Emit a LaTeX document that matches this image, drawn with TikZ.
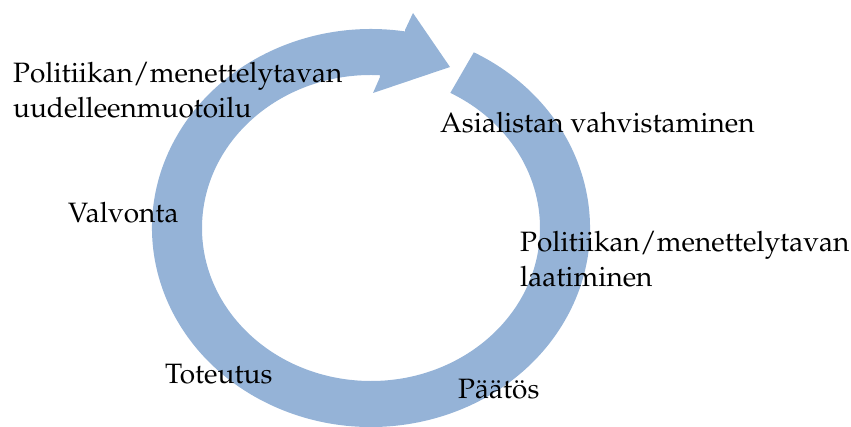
\documentclass[tikz,border=0pt]{standalone}
\usepackage[T1]{fontenc}
\usepackage{mathpazo}
\usetikzlibrary{calc}
\definecolor{ringblue}{RGB}{149,179,215}
\tikzset{
  lbl/.style={anchor=base west, inner sep=0pt, align=left, font=\fontsize{28}{35}\selectfont, text=black},
}
\begin{document}
\begin{tikzpicture}[x=1pt,y=-1pt]
\useasboundingbox (0,0) rectangle (851,427);
% ring arrow
\coordinate (C) at (371,228);
\coordinate (shTop) at (405,30);
\coordinate (headTop) at (413,13);
\coordinate (tip) at (450,67);
\coordinate (headBot) at (373,93);
\coordinate (shBot) at (380,77);
\fill[ringblue]
  ($(C)+(-62:219 and 199)$)
  arc[start angle=-62, end angle=279, x radius=219, y radius=199]
  -- (shTop) -- (headTop) -- (tip) -- (headBot) -- (shBot)
  -- ($(C)+(273:169 and 153)$)
  arc[start angle=273, end angle=-62, x radius=169, y radius=153]
  -- cycle;
% labels (multi-line nodes: base = last line)
\node[lbl] (t1) at (13,118) {Politiikan/menettelytavan\\uudelleenmuotoilu};
\node[lbl] (t2) at (440,133) {Asialistan vahvistaminen};
\node[lbl] (t3) at (520,287) {Politiikan/menettelytavan\\laatiminen};
\node[lbl] (t4) at (68,223) {Valvonta};
\node[lbl] (t5) at (165,383) {Toteutus};
\node[lbl] (t6) at (458,398) {P\"a\"at\"os};
\end{tikzpicture}
\end{document}
